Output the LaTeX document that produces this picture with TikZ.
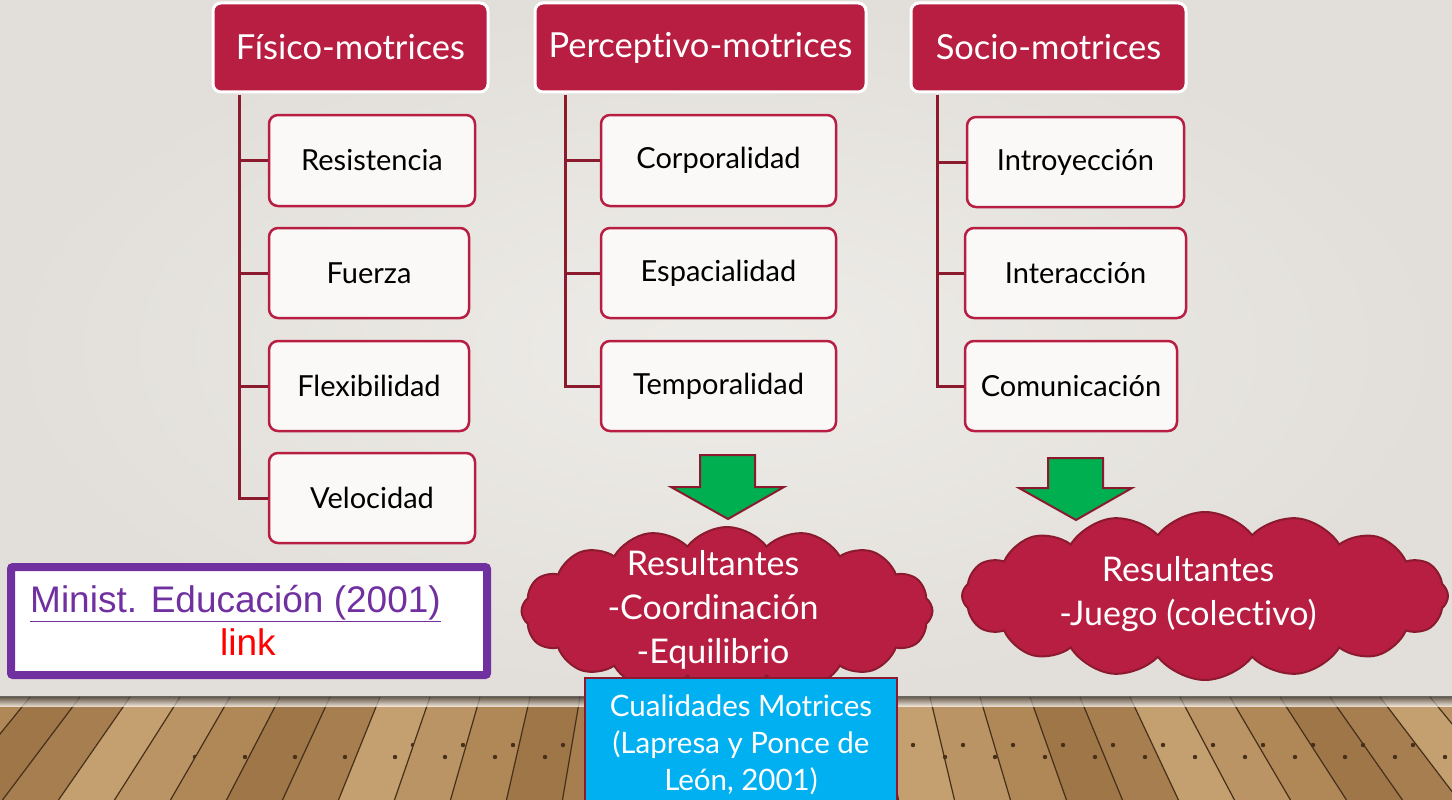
\documentclass[tikz,border=0pt]{standalone}
\usepackage{fontspec}
\setmainfont{Lato}[Ligatures=NoCommon]
\newfontfamily\arialf{Liberation Sans}
\usetikzlibrary{shapes.symbols}
\definecolor{crim}{RGB}{184,30,66}
\definecolor{dcrim}{RGB}{139,26,46}
\definecolor{wall}{RGB}{226,223,218}
\definecolor{wallc}{RGB}{238,236,232}
\definecolor{boxw}{RGB}{250,249,248}
\definecolor{grn}{RGB}{0,176,80}
\definecolor{cyanb}{RGB}{0,176,240}
\definecolor{purp}{RGB}{112,48,160}
\definecolor{w0}{RGB}{176,136,88}
\definecolor{w1}{RGB}{196,160,112}
\definecolor{w2}{RGB}{158,118,72}
\definecolor{w3}{RGB}{186,148,100}
\definecolor{w4}{RGB}{166,126,80}
\definecolor{wline}{RGB}{70,48,26}
\tikzset{
  head/.style={draw=white, line width=3pt, fill=crim, rounded corners=8pt, text=white,
    font=\fontsize{34.5}{40}\selectfont, inner sep=0pt},
  child/.style={draw=crim, line width=2.5pt, fill=boxw, rounded corners=9pt, text=black,
    font=\fontsize{29}{34}\selectfont, inner sep=0pt},
  conn/.style={draw=dcrim, line width=3pt},
  garrow/.style={fill=grn, draw=dcrim, line width=2pt, line join=miter},
  cloudsh/.style={cloud, cloud puffs=16, cloud puff arc=105, cloud ignores aspect, fill=crim, draw=dcrim,
    line width=2pt, inner sep=0pt},
  cloudtxt/.style={text=white, align=center, font=\fontsize{34}{44}\selectfont},
}
\begin{document}
\begin{tikzpicture}[x=1pt,y=-1pt]
\useasboundingbox (0,0) rectangle (1452,800);
% wall
\fill[wall] (0,0) rectangle (1452,800);
\shade[inner color=wallc, outer color=wall] (0,0) rectangle (1452,697);
% floor
\fill[w0] (0,697) rectangle (1452,800);
\foreach \j in {-16,...,15}{
  \pgfmathsetmacro\xa{730+50*\j}
  \pgfmathsetmacro\xb{730+50*(\j+1)}
  \pgfmathsetmacro\xc{726+(\xa-726)*1.12}
  \pgfmathsetmacro\xd{726+(\xb-726)*1.12}
  \pgfmathtruncatemacro\s{mod(\j*37+1000,5)}
  \fill[w\s] (\xa,697) -- (\xb,697) -- (\xd,800) -- (\xc,800) -- cycle;
  \draw[wline, line width=1.2pt] (\xa,697) -- (\xc,800);
  \pgfmathsetmacro\na{(\xa+\xb)/2+8}
  \pgfmathsetmacro\nb{(\xa+\xb)/2-10}
  \fill[wline] (\na,745) circle (2.2);
  \fill[wline] (\nb,757) circle (2.2);
}
\shade[top color=black!80, bottom color=black!0, opacity=0.7] (0,696) rectangle (1452,706);
% headers
\node[head, minimum width=275pt, minimum height=89pt] (h1) at (350.5,47.5) {Físico-motrices};
\node[head, minimum width=331pt, minimum height=89pt] (h2) at (700.5,47.5) {Perceptivo-motrices};
\node[head, minimum width=275pt, minimum height=89pt] (h3) at (1048.5,47.5) {Socio-motrices};
% children
\node[child, minimum width=206pt, minimum height=91pt] (f1) at (372,160.5) {Resistencia};
\node[child, minimum width=200pt, minimum height=90pt] (f2) at (369,273) {Fuerza};
\node[child, minimum width=200pt, minimum height=90pt] (f3) at (369,386) {Flexibilidad};
\node[child, minimum width=206pt, minimum height=90pt] (f4) at (372,498) {Velocidad};
\node[child, minimum width=235pt, minimum height=91pt] (p1) at (718.5,160.5) {Corporalidad};
\node[child, minimum width=235pt, minimum height=90pt] (p2) at (718.5,273) {Espacialidad};
\node[child, minimum width=235pt, minimum height=90pt] (p3) at (718.5,386) {Temporalidad};
\node[child, minimum width=217pt, minimum height=90pt] (s1) at (1075.5,162) {Introyección};
\node[child, minimum width=221pt, minimum height=90pt] (s2) at (1075.5,273) {Interacción};
\node[child, minimum width=212pt, minimum height=90pt] (s3) at (1071,386) {Comunicación};
% trunks
\coordinate (t1) at ([xshift=28pt,yshift=-1.5pt]h1.south west);
\coordinate (t2) at ([xshift=32pt,yshift=-1.5pt]h2.south west);
\coordinate (t3) at ([xshift=28pt,yshift=-1.5pt]h3.south west);
\draw[conn] (t1) |- (f4.west);
\draw[conn] (f1.west) -- (f1.west -| t1);
\draw[conn] (f2.west) -- (f2.west -| t1);
\draw[conn] (f3.west) -- (f3.west -| t1);
\draw[conn] (t2) |- (p3.west);
\draw[conn] (p1.west) -- (p1.west -| t2);
\draw[conn] (p2.west) -- (p2.west -| t2);
\draw[conn] (t3) |- (s3.west);
\draw[conn] (s1.west) -- (s1.west -| t3);
\draw[conn] (s2.west) -- (s2.west -| t3);
% clouds
\node[cloudsh, minimum width=411pt, minimum height=168pt] (c1) at (727,611) {};
\node[cloudsh, minimum width=486pt, minimum height=168pt] (c2) at (1205,596) {};
\node[cloudtxt] (c1t) at (713,610) {Resultantes\\-Coordinación\\-Equilibrio};
\node[cloudtxt] (c2t) at (1188,594) {Resultantes\\-Juego (colectivo)};
% green arrows
\draw[garrow] (700,455) -- (755,455) -- (755,487) -- (784,487) -- (728,519) -- (671,487) -- (700,487) -- cycle;
\draw[garrow] (1048,458) -- (1103,458) -- (1103,488) -- (1132,488) -- (1076,520) -- (1019,488) -- (1048,488) -- cycle;
% bottom box
\node[draw=dcrim, fill=cyanb, line width=2pt, minimum width=312pt, minimum height=160pt, anchor=north, inner sep=0pt] (qbox) at (741,677) {};
\node[text=white, align=center, font=\fontsize{29.5}{37}\selectfont] (qtxt) at (741,745) {Cualidades Motrices\\(Lapresa y Ponce de\\León, 2001)};
% link box
\node[draw=purp, line width=8pt, fill=white, minimum width=476pt, minimum height=108pt, rounded corners=2pt, inner sep=0pt] (lk) at (249,621) {};
\node[anchor=base west, text=purp, font=\arialf\fontsize{37}{42}\selectfont, inner sep=0pt] (lkt) at (30,612) {\underline{Minist. Educación (2001)}};
\node[anchor=base, text=red, font=\arialf\fontsize{37}{42}\selectfont, inner sep=0pt] (lkl) at (248,655) {link};
\end{tikzpicture}
\end{document}
